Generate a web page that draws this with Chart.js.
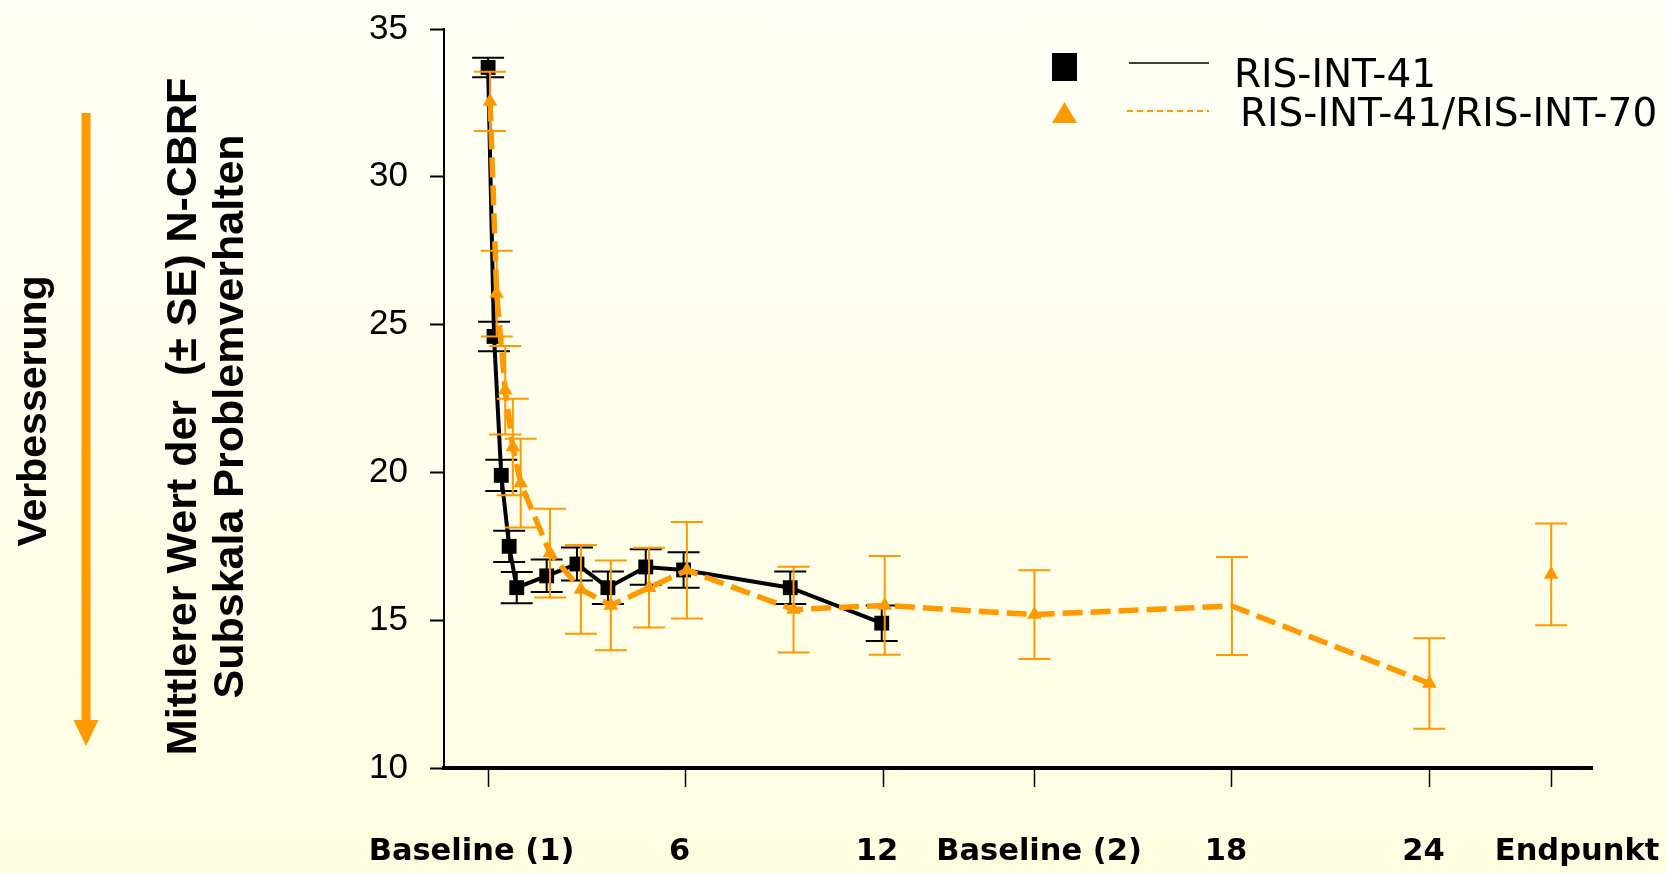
<!DOCTYPE html>
<html lang="de">
<head>
<meta charset="utf-8">
<title>N-CBRF Subskala Problemverhalten</title>
<script src="https://cdn.jsdelivr.net/npm/chart.js@4.4.1/dist/chart.umd.min.js"></script>
<style>
    html, body {
        margin: 0;
        padding: 0;
        width: 1667px;
        height: 873px;
        overflow: hidden;
        background: linear-gradient(to bottom, #fffff7 0%, #fffde0 100%);
    }
    canvas {
        display: block;
    }
</style>
</head>
<body>
<canvas id="chart" width="1667" height="873"></canvas>
<script>
// x axis: position of each visit (months in the first part of the study)
const tickPos = [0, 6, 12, 16.6, 22.6, 28.6, 32.3];
const tickLabels = ['Baseline (1)', '6', '12', 'Baseline (2)', '18', '24', 'Endpunkt'];

// RIS-INT-41
const risX = [0, 0.18, 0.4, 0.64, 0.87, 1.78, 2.7, 3.64, 4.79, 5.94, 9.18, 11.96];
const risY = [33.7, 24.6, 19.9, 17.5, 16.1, 16.5, 16.9, 16.1, 16.8, 16.7, 16.1, 14.9];
const risSE = [0.33, 0.5, 0.53, 0.53, 0.53, 0.55, 0.56, 0.55, 0.6, 0.6, 0.55, 0.6];

// RIS-INT-41/RIS-INT-70
const ris70X = [0.06, 0.26, 0.52, 0.75, 0.99, 1.88, 2.82, 3.73, 4.89, 6.04, 9.28, 12.05, 16.6, 22.6, 28.6, 32.3];
const ris70Y = [32.55, 26.05, 22.78, 20.86, 19.64, 17.27, 16.04, 15.5, 16.1, 16.69, 15.36, 15.5, 15.19, 15.48, 12.86, 16.55];
const ris70SE = [1.0, 1.45, 1.5, 1.63, 1.5, 1.5, 1.5, 1.52, 1.35, 1.63, 1.45, 1.67, 1.5, 1.66, 1.53, 1.72];

const orange = '#ff9900';

window.onload = () => {
    const toPoints = (xs, ys) => xs.map((x, i) => ({x: x, y: ys[i]}));

    // vertical error bars (+/- SE), drawn right after each dataset
    const errorBars = {
        id: 'errorBars',
        afterDatasetDraw(chart, args) {
            const ds = chart.data.datasets[args.index];
            if (!ds.se) return;
            const {ctx} = chart;
            const xs = chart.scales.x;
            const ys = chart.scales.y;
            ctx.save();
            ctx.strokeStyle = ds.errorColor;
            ctx.lineWidth = 2;
            ds.data.forEach((p, i) => {
                const px = xs.getPixelForValue(p.x);
                const top = ys.getPixelForValue(p.y + ds.se[i]);
                const bot = ys.getPixelForValue(p.y - ds.se[i]);
                ctx.beginPath();
                ctx.moveTo(px, top);
                ctx.lineTo(px, bot);
                ctx.moveTo(px - 16, top);
                ctx.lineTo(px + 16, top);
                ctx.moveTo(px - 16, bot);
                ctx.lineTo(px + 16, bot);
                ctx.stroke();
            });
            ctx.restore();
        }
    };

    // arrow "Verbesserung" on the left and the legend on the top right
    const decorations = {
        id: 'decorations',
        afterDraw(chart) {
            const {ctx} = chart;
            ctx.save();

            ctx.fillStyle = orange;
            ctx.fillRect(81.5, 113, 9, 609);
            ctx.beginPath();
            ctx.moveTo(73.5, 720);
            ctx.lineTo(98.5, 720);
            ctx.lineTo(86, 746);
            ctx.closePath();
            ctx.fill();

            ctx.save();
            ctx.translate(46, 411);
            ctx.rotate(-Math.PI / 2);
            ctx.fillStyle = '#000';
            ctx.font = 'bold 41px "Liberation Sans", Arial, sans-serif';
            ctx.textAlign = 'center';
            ctx.textBaseline = 'alphabetic';
            ctx.fillText('Verbesserung', 0, 0);
            ctx.restore();

            // legend
            ctx.fillStyle = '#000';
            ctx.fillRect(1052, 53, 25, 28);
            ctx.strokeStyle = '#000';
            ctx.lineWidth = 1.5;
            ctx.beginPath();
            ctx.moveTo(1129, 63);
            ctx.lineTo(1209, 63);
            ctx.stroke();

            ctx.fillStyle = orange;
            ctx.beginPath();
            ctx.moveTo(1052, 123);
            ctx.lineTo(1077, 123);
            ctx.lineTo(1064.5, 102);
            ctx.closePath();
            ctx.fill();
            ctx.strokeStyle = orange;
            ctx.lineWidth = 2;
            ctx.setLineDash([6, 4]);
            ctx.beginPath();
            ctx.moveTo(1127, 111);
            ctx.lineTo(1209, 111);
            ctx.stroke();
            ctx.setLineDash([]);

            ctx.fillStyle = '#000';
            ctx.font = '39px "DejaVu Sans", Verdana, sans-serif';
            ctx.textAlign = 'left';
            ctx.textBaseline = 'alphabetic';
            ctx.fillText('RIS-INT-41', 1234, 87);
            ctx.fillText('RIS-INT-41/RIS-INT-70', 1240, 126);

            ctx.restore();
        }
    };

    const lastIdx = ris70X.length - 1;

    const ctx = document.getElementById('chart').getContext('2d');
    new Chart(ctx, {
        type: 'line',
        data: {
            datasets: [
                {
                    label: 'RIS-INT-41/RIS-INT-70',
                    data: toPoints(ris70X, ris70Y),
                    se: ris70SE,
                    errorColor: orange,
                    order: 0,
                    borderColor: orange,
                    borderWidth: 5.5,
                    borderDash: [20, 8],
                    pointStyle: 'triangle',
                    // the marker at month 18 is not visible in the original
                    pointRadius: (c) => (c.dataIndex === 13 ? 0 : 8.5),
                    pointBackgroundColor: orange,
                    pointBorderWidth: 0,
                    segment: {
                        // endpoint is not connected to the curve
                        borderColor: (c) => (c.p1DataIndex === lastIdx ? 'rgba(0,0,0,0)' : undefined)
                    }
                },
                {
                    label: 'RIS-INT-41',
                    data: toPoints(risX, risY),
                    se: risSE,
                    errorColor: '#000',
                    order: 1,
                    borderColor: '#000',
                    borderWidth: 4,
                    pointStyle: 'rect',
                    pointRadius: 10.5,
                    pointBackgroundColor: '#000',
                    pointBorderWidth: 0
                }
            ]
        },
        options: {
            responsive: false,
            animation: false,
            events: [],
            layout: {
                padding: {top: 29, right: 75, bottom: 0, left: 0}
            },
            scales: {
                x: {
                    type: 'linear',
                    min: -1.34,
                    max: 33.54,
                    afterBuildTicks: (scale) => {
                        scale.ticks = tickPos.map((v) => ({value: v}));
                    },
                    afterFit: (scale) => {
                        scale.height = 105;
                        scale.paddingLeft = 0;
                        scale.paddingRight = 0;
                    },
                    ticks: {
                        autoSkip: false,
                        maxRotation: 0,
                        padding: 47,
                        labelOffset: -6,
                        color: '#000',
                        font: {family: '"DejaVu Sans", Verdana, sans-serif', size: 30.5, weight: 'bold'},
                        callback: (value, index) => {
                            // some labels sit off-centre in the original slide
                            const nudge = {0: -2, 3: 2, 6: 6}[index] || 0;
                            const sp = ' '.repeat(Math.abs(nudge));
                            return nudge < 0 ? tickLabels[index] + sp : sp + tickLabels[index];
                        }
                    },
                    grid: {
                        drawOnChartArea: false,
                        drawTicks: true,
                        tickLength: 19,
                        tickWidth: 1.5,
                        tickColor: '#000'
                    },
                    border: {color: '#000', width: 4}
                },
                y: {
                    min: 10,
                    max: 35,
                    afterFit: (scale) => {
                        scale.width = 444;
                        scale.paddingTop = 0;
                        scale.paddingBottom = 0;
                    },
                    ticks: {
                        stepSize: 5,
                        padding: 22,
                        color: '#000',
                        font: {family: '"Liberation Sans", Arial, sans-serif', size: 35}
                    },
                    grid: {
                        drawOnChartArea: false,
                        drawTicks: true,
                        tickLength: 14,
                        tickWidth: 2,
                        tickColor: '#000'
                    },
                    border: {color: '#000', width: 2},
                    title: {
                        display: true,
                        // trailing spaces move the centred title a little lower, as in the original
                        text: ['Mittlerer Wert der  (\u00b1 SE) N-CBRF   ', 'Subskala Problemverhalten   '],
                        color: '#000',
                        font: {family: '"Liberation Sans", Arial, sans-serif', size: 43, weight: 'bold', lineHeight: 1.1},
                        padding: {top: 160, bottom: 0}
                    }
                }
            },
            plugins: {
                legend: {display: false},
                tooltip: {enabled: false}
            }
        },
        plugins: [errorBars, decorations]
    });
};
</script>
</body>
</html>
